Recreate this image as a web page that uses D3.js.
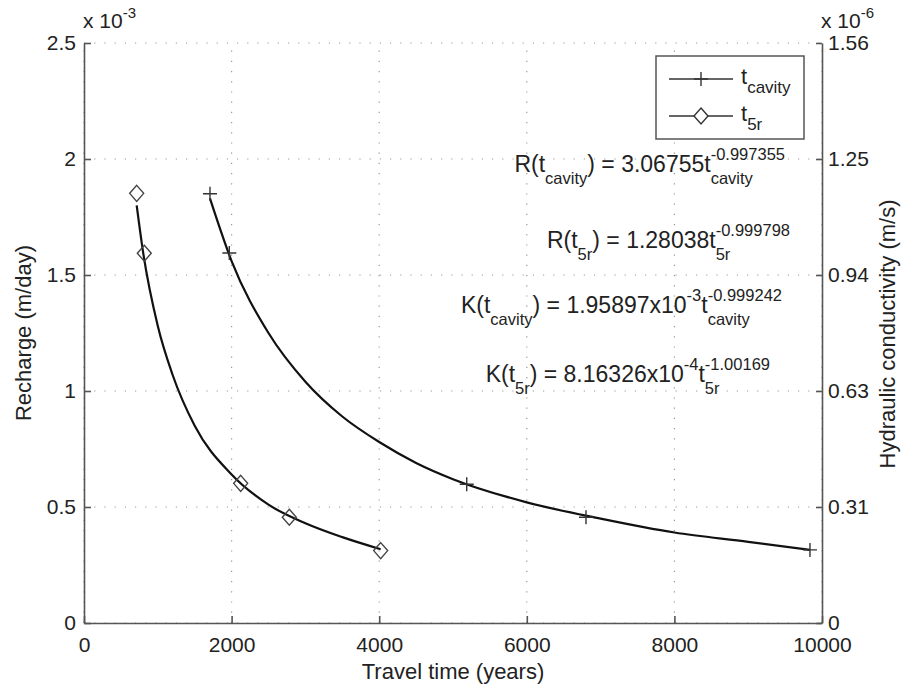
<!DOCTYPE html>
<html>
<head>
<meta charset="utf-8">
<script src="https://cdn.jsdelivr.net/npm/d3@7"></script>
<style>
  body { margin: 0; background: #fff; }
  text { font-family: "Liberation Sans", Arial, sans-serif; fill: #222; }
</style>
</head>
<body>
<div id="chart"></div>
<script>
// travel time (years) vs recharge (x 10^-3 m/day)
const cavityT = [1707, 1969, 5186, 6802, 9837];
const cavityR = [1.85, 1.595, 0.598, 0.456, 0.315];
const fiveRT = [714, 817, 2123, 2782, 4020];
const fiveRR = [1.852, 1.594, 0.602, 0.456, 0.312];

// fitted curves, sampled by eye along the drawn lines
const cavityFitT = [1707, 2000, 2500, 3000, 3500, 4000, 4500, 5000, 6000, 7000, 8000, 9000, 9837];
const cavityFitR = [1.83, 1.56, 1.25, 1.04, 0.89, 0.78, 0.69, 0.62, 0.52, 0.45, 0.39, 0.35, 0.315];
const fiveRFitT = [714, 800, 1000, 1200, 1500, 2000, 2500, 3000, 3500, 4020];
const fiveRFitR = [1.80, 1.60, 1.28, 1.07, 0.85, 0.64, 0.51, 0.43, 0.37, 0.318];

// ticks
const xTicks = [0, 2000, 4000, 6000, 8000, 10000];
const yTicks = [0, 0.5, 1, 1.5, 2, 2.5];
const kTicks = [0, 0.3125, 0.625, 0.9375, 1.25, 1.5625];
const kTickLabels = ["0", "0.31", "0.63", "0.94", "1.25", "1.56"];

// legend + fit equations (n = normal, sub, sup, stack = sup over sub)
const legendLabels = [
  [["n", "t"], ["sub", "cavity"]],
  [["n", "t"], ["sub", "5r"]]
];
const equations = [
  [["n", "R(t"], ["sub", "cavity"], ["n", ") = 3.06755t"], ["stack", "-0.997355", "cavity"]],
  [["n", "R(t"], ["sub", "5r"], ["n", ") = 1.28038t"], ["stack", "-0.999798", "5r"]],
  [["n", "K(t"], ["sub", "cavity"], ["n", ") = 1.95897x10"], ["sup", "-3"], ["n", "t"], ["stack", "-0.999242", "cavity"]],
  [["n", "K(t"], ["sub", "5r"], ["n", ") = 8.16326x10"], ["sup", "-4"], ["n", "t"], ["stack", "-1.00169", "5r"]]
];

const W = 903, H = 687;
const plotL = 84, plotR = 822, plotT = 43, plotB = 623;

const svg = d3.select("#chart").append("svg")
    .attr("width", W)
    .attr("height", H);

const x = d3.scaleLinear().domain([0, 10000]).range([plotL, plotR]);
const y = d3.scaleLinear().domain([0, 2.5]).range([plotB, plotT]);
const yK = d3.scaleLinear().domain([0, 1.5625]).range([plotB, plotT]);

// dotted grid
const grid = svg.append("g")
    .attr("stroke", "#999")
    .attr("stroke-width", 1.2)
    .attr("stroke-dasharray", "1.2,9");
grid.selectAll(".gx")
    .data(xTicks)
    .enter().append("line")
    .attr("x1", d => x(d)).attr("x2", d => x(d))
    .attr("y1", plotB).attr("y2", plotT);
grid.selectAll(".gy")
    .data(yTicks)
    .enter().append("line")
    .attr("x1", plotL).attr("x2", plotR)
    .attr("y1", d => y(d)).attr("y2", d => y(d));

// axes
function styleAxis(g) {
    g.selectAll("path, line").attr("stroke", "#555").attr("stroke-width", 1.6);
    g.selectAll("text").style("font-size", "21px").attr("fill", "#222")
        .style("font-family", "'Liberation Sans', Arial, sans-serif");
}

svg.append("g")
    .attr("transform", "translate(0," + plotB + ")")
    .call(d3.axisBottom(x).tickValues(xTicks).tickFormat(d3.format("d"))
        .tickSizeInner(-7).tickSizeOuter(0).tickPadding(14))
    .call(styleAxis);

svg.append("g")
    .attr("transform", "translate(" + plotL + ",0)")
    .call(d3.axisLeft(y).tickValues(yTicks).tickFormat(d => d)
        .tickSizeInner(-7).tickSizeOuter(0).tickPadding(8))
    .call(styleAxis);

svg.append("g")
    .attr("transform", "translate(" + plotR + ",0)")
    .call(d3.axisRight(yK).tickValues(kTicks).tickFormat((d, i) => kTickLabels[i])
        .tickSizeInner(-6).tickSizeOuter(0).tickPadding(6))
    .call(styleAxis);

// rich text helper: lays parts out left to right, then anchors the group
function rich(parent, ax, ay, parts, big, small, anchor, subDy, supDy) {
    const g = parent.append("g");
    let cx = 0;
    const put = (s, size, dy) => {
        const t = g.append("text")
            .attr("x", cx).attr("y", ay + dy)
            .style("font-size", size + "px")
            .text(s);
        return t.node().getComputedTextLength();
    };
    parts.forEach(p => {
        if (p[0] === "n") cx += put(p[1], big, 0);
        else if (p[0] === "sub") cx += put(p[1], small, subDy);
        else if (p[0] === "sup") cx += put(p[1], small, supDy);
        else {
            const w1 = put(p[1], small, supDy);
            const w2 = put(p[2], small, subDy);
            cx += Math.max(w1, w2);
        }
    });
    g.attr("transform", "translate(" + (anchor === "end" ? ax - cx : ax) + ",0)");
}

// exponent labels above the axes
rich(svg, 83, 28, [["n", "x 10"], ["sup", "-3"]], 21, 15, "start", 0, -10);
rich(svg, 821, 28, [["n", "x 10"], ["sup", "-6"]], 21, 15, "start", 0, -10);

// axis titles
svg.append("text")
    .attr("x", (plotL + plotR) / 2)
    .attr("y", 679)
    .style("text-anchor", "middle")
    .style("font-size", "22px")
    .text("Travel time (years)");

svg.append("text")
    .attr("transform", "translate(31,333) rotate(-90)")
    .style("text-anchor", "middle")
    .style("font-size", "22px")
    .text("Recharge (m/day)");

svg.append("text")
    .attr("transform", "translate(895,334) rotate(-90)")
    .style("text-anchor", "middle")
    .style("font-size", "22px")
    .text("Hydraulic conductivity (m/s)");

// fitted curves
const line = d3.line()
    .x(d => x(d[0]))
    .y(d => y(d[1]))
    .curve(d3.curveMonotoneX);

svg.append("path")
    .datum(cavityFitT.map((t, i) => [t, cavityFitR[i]]))
    .attr("d", line)
    .attr("fill", "none")
    .attr("stroke", "#111")
    .attr("stroke-width", 2.2);

svg.append("path")
    .datum(fiveRFitT.map((t, i) => [t, fiveRFitR[i]]))
    .attr("d", line)
    .attr("fill", "none")
    .attr("stroke", "#111")
    .attr("stroke-width", 2.2);

// markers
const plusPath = "M-7,0H7M0,-7V7";
const diamondPath = "M0,-8L7,0L0,8L-7,0Z";

svg.selectAll(".plus")
    .data(cavityT.map((t, i) => [t, cavityR[i]]))
    .enter().append("path")
    .attr("class", "plus")
    .attr("transform", d => "translate(" + x(d[0]) + "," + y(d[1]) + ")")
    .attr("d", plusPath)
    .attr("fill", "none")
    .attr("stroke", "#333")
    .attr("stroke-width", 1.4);

svg.selectAll(".diamond")
    .data(fiveRT.map((t, i) => [t, fiveRR[i]]))
    .enter().append("path")
    .attr("class", "diamond")
    .attr("transform", d => "translate(" + x(d[0]) + "," + y(d[1]) + ")")
    .attr("d", diamondPath)
    .attr("fill", "none")
    .attr("stroke", "#444")
    .attr("stroke-width", 1.4);

// legend
const legend = svg.append("g");
legend.append("rect")
    .attr("x", 656).attr("y", 56)
    .attr("width", 148).attr("height", 83)
    .attr("fill", "#fff")
    .attr("stroke", "#555")
    .attr("stroke-width", 1.5);

const legendY = [79, 116];
const legendMarks = [plusPath, diamondPath];
legendY.forEach((ly, i) => {
    legend.append("line")
        .attr("x1", 669).attr("x2", 733)
        .attr("y1", ly).attr("y2", ly)
        .attr("stroke", "#333").attr("stroke-width", 1.4);
    legend.append("path")
        .attr("transform", "translate(701," + ly + ")")
        .attr("d", legendMarks[i])
        .attr("fill", i === 1 ? "#fff" : "none")
        .attr("stroke", "#333").attr("stroke-width", 1.4);
    rich(legend, 741, ly + 5, legendLabels[i], 22, 17, "start", 9, -11);
});

// fit equations (right ends as placed in the figure)
const eqX = [785, 790, 782, 770];
const eqY = [172, 248, 313, 382];
equations.forEach((parts, i) => {
    rich(svg, eqX[i], eqY[i], parts, 23, 16.5, "end", 12, -12);
});
</script>
</body>
</html>
